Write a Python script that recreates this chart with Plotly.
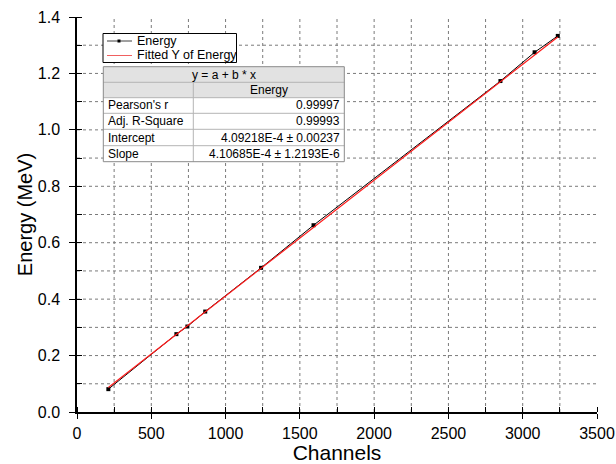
import numpy as np
import plotly.graph_objects as go

# ---- data ----
channels = [211, 669, 743, 863, 1239, 1592, 2850, 3080, 3236]
energy = [0.081, 0.276, 0.303, 0.356, 0.511, 0.662, 1.173, 1.275, 1.333]
intercept = 4.09218e-4
slope = 4.10685e-4

table_header = "y = a + b * x"
table_col = "Energy"
table_rows = ["Pearson's r", "Adj. R-Square", "Intercept", "Slope"]
table_vals = ["0.99997", "0.99993", "4.09218E-4 ± 0.00237", "4.10685E-4 ± 1.2193E-6"]
legend_names = ["Energy", "Fitted Y of Energy"]

x_ticks = [0, 500, 1000, 1500, 2000, 2500, 3000, 3500]
y_ticks = [0.0, 0.2, 0.4, 0.6, 0.8, 1.0, 1.2, 1.4]
x_grid = [250 * k for k in range(1, 14)]
y_grid = [round(0.1 * k, 1) for k in range(1, 14)]

# ---- layout geometry ----
W, H = 616, 464
L, R, T, B = 77, 19, 17, 52
PW, PH = W - L - R, H - T - B
FONT = "Liberation Sans, Arial, sans-serif"


def px(x):
    return (x - L) / PW


def py(y):
    return (H - B - y) / PH


fit_x = np.array([min(channels), max(channels)], dtype=float)
fit_y = intercept + slope * fit_x

fig = go.Figure()
fig.add_trace(go.Scatter(
    x=channels, y=energy, mode="lines+markers", name=legend_names[0],
    line=dict(color="black", width=1),
    marker=dict(symbol="square", size=4, color="black"),
    showlegend=False))
fig.add_trace(go.Scatter(
    x=fit_x, y=fit_y, mode="lines", name=legend_names[1],
    line=dict(color="#ff1a1a", width=1.2), showlegend=False))

fig.update_xaxes(
    range=[0, 3500], tickvals=x_ticks, ticks="outside", ticklen=5, tickwidth=1.2,
    tickcolor="black", showline=True, linecolor="black", linewidth=1.5,
    zeroline=False, showgrid=False, ticklabeloverflow="allow",
    tickfont=dict(family=FONT, size=16, color="black"), ticklabelstandoff=1,
    minor=dict(dtick=250, tick0=0, ticks="inside", ticklen=5, tickcolor="black",
               tickwidth=1, showgrid=False),
    title=dict(text="Channels", font=dict(family=FONT, size=21, color="black"),
               standoff=3))
fig.update_yaxes(
    range=[0, 1.4], tickvals=y_ticks, tickformat=".1f", ticks="outside",
    ticklen=6, tickwidth=1.2, tickcolor="black", showline=True,
    linecolor="black", linewidth=1.5, zeroline=False, showgrid=False,
    tickfont=dict(family=FONT, size=16, color="black"), ticklabelstandoff=6,
    minor=dict(dtick=0.1, tick0=0, ticks="inside", ticklen=5, tickcolor="black",
               tickwidth=1, showgrid=False),
    title=dict(text="Energy (MeV)", font=dict(family=FONT, size=20, color="black"),
               standoff=0))

shapes = []
annotations = []

# ---- dashed grid ----
GL = dict(color="#7a7a7a", width=1, dash="3px,3px")
for gx in x_grid:
    shapes.append(dict(type="line", xref="x", yref="paper", layer="below",
                       x0=gx, x1=gx, y0=0, y1=1, line=GL))
for gy in y_grid:
    shapes.append(dict(type="line", xref="paper", yref="y", layer="below",
                       x0=0, x1=1, y0=gy, y1=gy, line=GL))

# ---- legend box ----
lg_l, lg_r, lg_t, lg_b = 103, 236.5, 33.5, 62.5
shapes.append(dict(type="rect", xref="paper", yref="paper", layer="above",
                   x0=px(lg_l), x1=px(lg_r), y0=py(lg_b), y1=py(lg_t),
                   fillcolor="white", line=dict(color="black", width=1)))
rows_y = [41, 55.5]
colors = ["#404040", "#f06060"]
for i, name in enumerate(legend_names):
    shapes.append(dict(type="line", xref="paper", yref="paper", layer="above",
                       x0=px(107), x1=px(132), y0=py(rows_y[i]), y1=py(rows_y[i]),
                       line=dict(color=colors[i], width=1)))
    annotations.append(dict(xref="paper", yref="paper", x=px(135), y=py(rows_y[i]),
                            xanchor="left", yanchor="middle", showarrow=False,
                            text=name, font=dict(family=FONT, size=12.5, color="black")))
shapes.append(dict(type="rect", xref="paper", yref="paper", layer="above",
                   x0=px(117.5), x1=px(120.5), y0=py(rows_y[0] + 1.5), y1=py(rows_y[0] - 1.5),
                   fillcolor="black", line=dict(width=0)))

# ---- fit table ----
tl, tr, tc = 103.3, 344.3, 193.3
row_lines = [66.7, 82.3, 97.7, 113.3, 129.3, 145.7, 161.7]
shapes.append(dict(type="rect", xref="paper", yref="paper", layer="above",
                   x0=px(tl), x1=px(tr), y0=py(row_lines[-1]), y1=py(row_lines[0]),
                   fillcolor="white", line=dict(width=0)))
shapes.append(dict(type="rect", xref="paper", yref="paper", layer="above",
                   x0=px(tl), x1=px(tr), y0=py(row_lines[2]), y1=py(row_lines[0]),
                   fillcolor="#e2e2e2", line=dict(width=0)))
for yl in row_lines[1:-1]:
    shapes.append(dict(type="line", xref="paper", yref="paper", layer="above",
                       x0=px(tl), x1=px(tr), y0=py(yl), y1=py(yl),
                       line=dict(color="#b4b4b4", width=1)))
shapes.append(dict(type="line", xref="paper", yref="paper", layer="above",
                   x0=px(tc), x1=px(tc), y0=py(row_lines[1]), y1=py(row_lines[-1]),
                   line=dict(color="#b4b4b4", width=1)))
shapes.append(dict(type="rect", xref="paper", yref="paper", layer="above",
                   x0=px(tl), x1=px(tr), y0=py(row_lines[-1]), y1=py(row_lines[0]),
                   line=dict(color="#8a8a8a", width=1)))

TF = dict(family=FONT, size=12, color="black")
annotations.append(dict(xref="paper", yref="paper", x=px((tl + tr) / 2),
                        y=py((row_lines[0] + row_lines[1]) / 2), xanchor="center",
                        yanchor="middle", showarrow=False, text=table_header, font=TF))
annotations.append(dict(xref="paper", yref="paper", x=px((tc + tr) / 2),
                        y=py((row_lines[1] + row_lines[2]) / 2), xanchor="center",
                        yanchor="middle", showarrow=False, text=table_col, font=TF))
for i, (lab, val) in enumerate(zip(table_rows, table_vals)):
    yc = py((row_lines[i + 2] + row_lines[i + 3]) / 2)
    annotations.append(dict(xref="paper", yref="paper", x=px(106), y=yc,
                            xanchor="left", yanchor="middle", showarrow=False,
                            text=lab, font=TF))
    annotations.append(dict(xref="paper", yref="paper", x=px(342), y=yc,
                            xanchor="right", yanchor="middle", showarrow=False,
                            text=val, font=TF))

fig.update_layout(
    width=W, height=H, margin=dict(l=L, r=R, t=T, b=B, autoexpand=False),
    paper_bgcolor="white", plot_bgcolor="white", showlegend=False,
    shapes=shapes, annotations=annotations,
    font=dict(family=FONT, color="black"))

fig.write_html("out.html", config={"displayModeBar": False},
               post_script="document.body.style.margin='0';"
                           "document.body.style.overflow='hidden';")
